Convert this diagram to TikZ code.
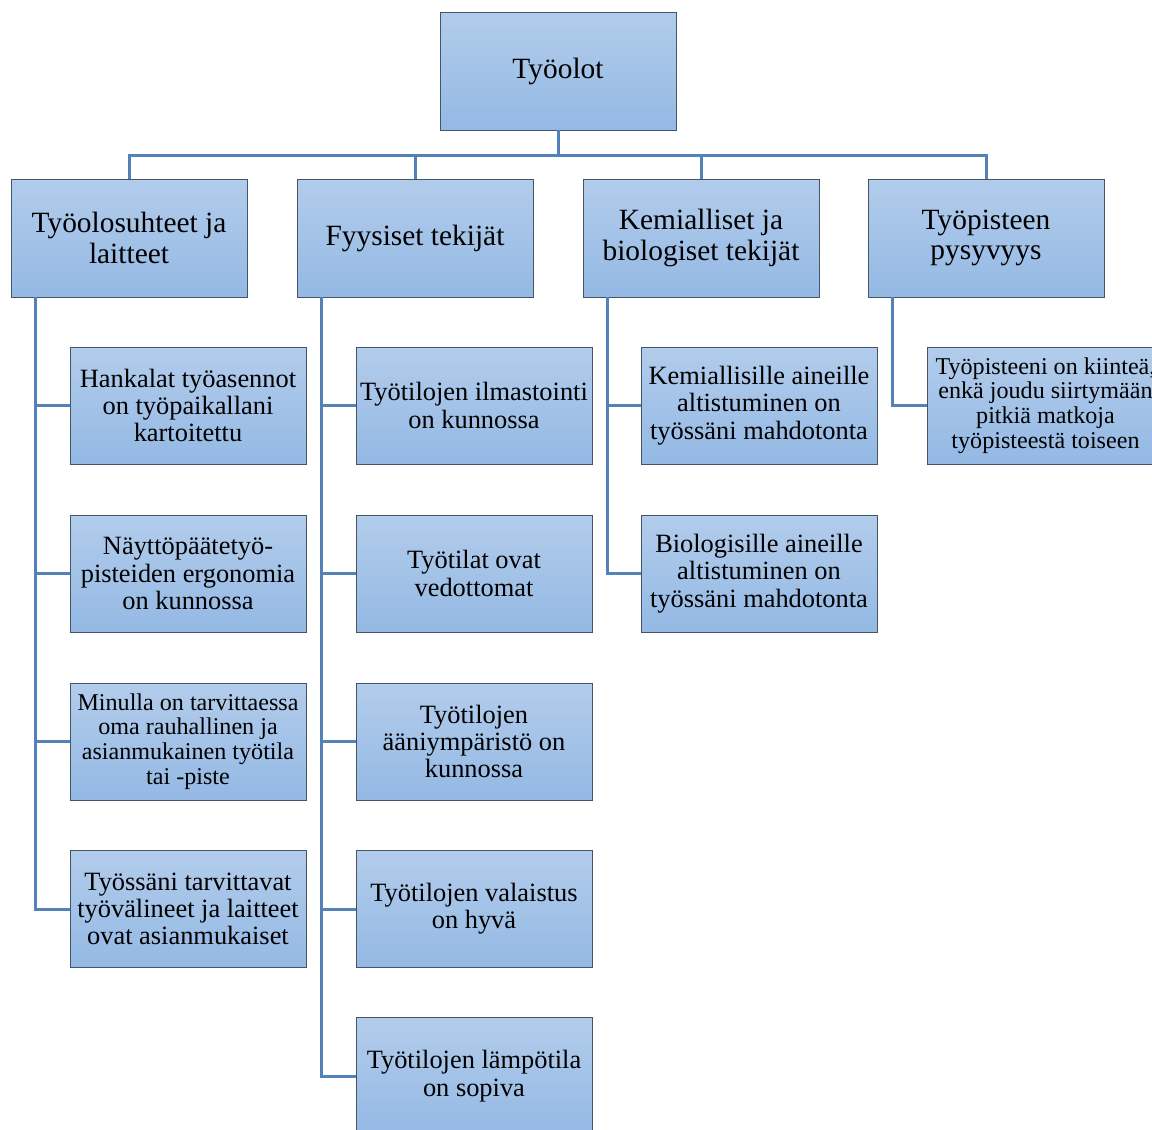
\documentclass[tikz,border=0pt]{standalone}
\usepackage{fontspec}
\setmainfont{Liberation Serif}
\usetikzlibrary{calc}
\definecolor{boxtop}{RGB}{178,204,235}
\definecolor{boxbot}{RGB}{148,185,228}
\definecolor{boxline}{RGB}{70,84,104}
\definecolor{conn}{RGB}{84,130,184}
\tikzset{
  box/.style={draw=boxline, line width=0.9pt, top color=boxtop, bottom color=boxbot,
    minimum width=236pt, minimum height=117pt, inner sep=1pt, align=center, text=black},
  bigtxt/.style={font=\fontsize{29.4}{30.5}\selectfont},
  midtxt/.style={font=\fontsize{26.4}{27.3}\selectfont},
  smalltxt/.style={font=\fontsize{24.1}{24.8}\selectfont},
  conline/.style={draw=conn, line width=3pt},
}
\begin{document}
\begin{tikzpicture}[x=1pt,y=-1pt]
\clip (0,0) rectangle (1152,1130);
\fill[white] (0,0) rectangle (1152,1130);
% top
\node[box,bigtxt,minimum height=118pt] (top) at (558,71) {Työolot};
% level 2
\node[box,bigtxt,minimum height=118pt] (a) at (129,238) {Työolosuhteet ja\\laitteet};
\node[box,bigtxt,minimum height=118pt] (b) at (415,238) {Fyysiset tekijät};
\node[box,bigtxt,minimum height=118pt] (c) at (701,238) {Kemialliset ja\\biologiset tekijät};
\node[box,bigtxt,minimum height=118pt] (d) at (986,238) {Työpisteen\\pysyvyys};
% column 1
\node[box,midtxt] (a1) at (188,405.5) {Hankalat työasennot\\on työpaikallani\\kartoitettu};
\node[box,midtxt] (a2) at (188,573.5) {Näyttöpäätetyö-\\pisteiden ergonomia\\on kunnossa};
\node[box,smalltxt] (a3) at (188,741.5) {Minulla on tarvittaessa\\oma rauhallinen ja\\asianmukainen työtila\\tai -piste};
\node[box,midtxt] (a4) at (188,909) {Työssäni tarvittavat\\työvälineet ja laitteet\\ovat asianmukaiset};
% column 2
\node[box,midtxt] (b1) at (474,405.5) {Työtilojen ilmastointi\\on kunnossa};
\node[box,midtxt] (b2) at (474,573.5) {Työtilat ovat\\vedottomat};
\node[box,midtxt] (b3) at (474,741.5) {Työtilojen\\ääniympäristö on\\kunnossa};
\node[box,midtxt] (b4) at (474,909) {Työtilojen valaistus\\on hyvä};
\node[box,midtxt] (b5) at (474,1076) {Työtilojen lämpötila\\on sopiva};
% column 3
\node[box,midtxt] (c1) at (759,405.5) {Kemiallisille aineille\\altistuminen on\\työssäni mahdotonta};
\node[box,midtxt] (c2) at (759,573.5) {Biologisille aineille\\altistuminen on\\työssäni mahdotonta};
% column 4
\node[box,smalltxt] (d1) at (1045.5,405.5) {Työpisteeni on kiinteä,\\enkä joudu siirtymään\\pitkiä matkoja\\työpisteestä toiseen};
% connectors top -> level 2
\coordinate (bus) at ($(top.south)+(0,25)$);
\draw[conline] (top.south) -- (bus);
\foreach \n in {a,b,c,d}{
  \draw[conline] (bus) -| (\n.north);
}
% spines
\coordinate (sa) at ($(a.south west)+(25,0)$);
\coordinate (sb) at ($(b.south west)+(25,0)$);
\coordinate (sc) at ($(c.south west)+(25,0)$);
\coordinate (sd) at ($(d.south west)+(25,0)$);
\foreach \n in {a1,a2,a3,a4}{ \draw[conline] (sa) |- (\n.west); }
\foreach \n in {b1,b2,b3,b4,b5}{ \draw[conline] (sb) |- (\n.west); }
\foreach \n in {c1,c2}{ \draw[conline] (sc) |- (\n.west); }
\draw[conline] (sd) |- (d1.west);
\end{tikzpicture}
\end{document}
